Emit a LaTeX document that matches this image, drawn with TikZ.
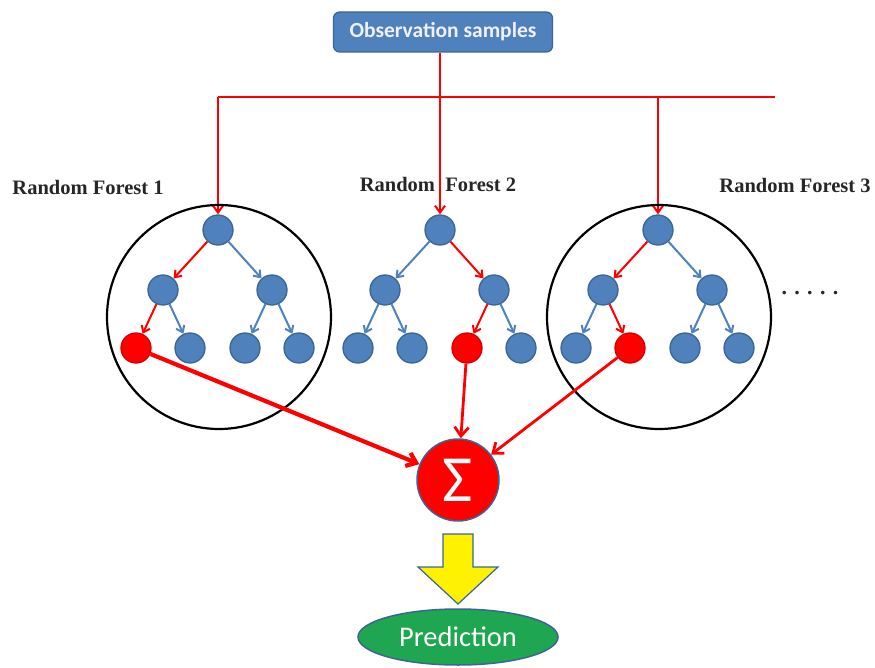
\documentclass[tikz,border=0pt]{standalone}
\usepackage{fontspec}
\setmainfont{Liberation Serif}
\newfontfamily\calibri{Carlito}
\usetikzlibrary{arrows.meta,shapes.geometric}
\definecolor{nodeblue}{HTML}{4F81BD}
\definecolor{nodeline}{HTML}{3A6594}
\definecolor{predgreen}{HTML}{1FA650}
\tikzset{
  tnode/.style={circle, draw=nodeline, fill=nodeblue, line width=1.3pt,
    minimum size=30pt, inner sep=0pt},
  hitnode/.style={tnode, fill=red, draw=red!85!black},
  bedge/.style={-{Straight Barb[length=6pt,width=9pt]}, draw=nodeblue, line width=2pt},
  redge/.style={-{Straight Barb[length=6pt,width=9pt]}, draw=red, line width=2pt},
  feed/.style={-{Straight Barb[length=7pt,width=10pt]}, draw=red, line width=2pt},
  vote/.style={-{Straight Barb[length=9pt,width=14pt]}, draw=red, line width=2.8pt},
  forest/.style={circle, draw=black, line width=2.2pt, minimum size=224pt, inner sep=0pt},
  flabel/.style={font=\fontsize{20.5}{24}\selectfont\bfseries, text=black!85},
  obsbox/.style={draw=nodeline, fill=nodeblue, rounded corners=6pt, line width=1.2pt,
    minimum width=219pt, minimum height=40pt, text=blue!6,
    font=\calibri\bfseries\fontsize{21.5}{24}\selectfont},
  sumnode/.style={circle, draw=nodeline, fill=red, line width=1.5pt, minimum size=82pt,
    inner sep=0pt, text=white, font=\calibri\fontsize{66}{66}\selectfont},
  prednode/.style={ellipse, draw=nodeline, fill=predgreen, line width=1.5pt,
    minimum width=200pt, minimum height=56pt, text=white,
    font=\calibri\fontsize{28.5}{30}\selectfont},
}

\begin{document}
\begin{tikzpicture}[x=1pt, y=-1pt]
  \useasboundingbox (0,0) rectangle (875,668);

  %% ---- input and its feed lines ----
  \node[obsbox] (obs) at (443,32) {Observation samples};
  \coordinate (bus-l) at (218,97);
  \coordinate (bus-r) at (775,97);

  %% ---- the three trees; \hit is the leaf on the red path ----
  \foreach \t/\cx/\ea/\eb/\ec/\ed/\ee/\ef/\hit in
      {1/218/redge/bedge/redge/bedge/bedge/bedge/1,
       2/440/bedge/redge/bedge/bedge/redge/bedge/3,
       3/658/redge/bedge/bedge/redge/bedge/bedge/2}{
    \node[tnode] (t\t-r) at (\cx,230) {};
    \node[tnode] (t\t-a) at (\cx-55,290) {};
    \node[tnode] (t\t-b) at (\cx+54,290) {};
    \foreach \k/\dx in {1/-82,2/-28,3/27,4/81}{
      \ifnum\k=\hit \def\lstyle{hitnode}\else\def\lstyle{tnode}\fi
      \node[\lstyle] (t\t-l\k) at (\cx+\dx,348) {};
    }
    \draw[\ea] (t\t-r) -- (t\t-a);
    \draw[\eb] (t\t-r) -- (t\t-b);
    \draw[\ec] (t\t-a) -- (t\t-l1);
    \draw[\ed] (t\t-a) -- (t\t-l2);
    \draw[\ee] (t\t-b) -- (t\t-l3);
    \draw[\ef] (t\t-b) -- (t\t-l4);
  }

  \draw[red, line width=2pt] (bus-l) -- (bus-r);
  \draw[feed] (obs.south -| t2-r) -- (t2-r);
  \draw[feed] (bus-l) -- (t1-r);
  \draw[feed] (t3-r |- bus-l) -- (t3-r);

  %% ---- forest outlines and labels ----
  \node[forest] (f1) at (219,317) {};
  \node[forest] (f3) at (659,317) {};
  \node[flabel] (f1-lbl) at (88,187) {Random Forest 1};
  \node[flabel] (f2-lbl) at (438,184) {Random~~Forest 2};
  \node[flabel] (f3-lbl) at (795,185) {Random Forest 3};
  \node[flabel, font=\fontsize{22}{24}\selectfont\bfseries] (more) at (810,293) {. . . . .};

  %% ---- voting ----
  \node[sumnode] (sum) at (458,480) {Σ};
  \draw[vote, line width=4.2pt] (t1-l1) -- (sum);
  \draw[vote] (t2-l3) -- (sum);
  \draw[vote] (t3-l2) -- (sum);

  %% ---- output ----
  \node[prednode] (pred) at (458,637) {Prediction};
  \draw[draw=nodeline, fill=yellow, line width=1.2pt]
    (443,534) -- (473,534) -- (473,567) -- (498,567) -- (458,604)
    -- (418,567) -- (443,567) -- cycle;
\end{tikzpicture}
\end{document}
